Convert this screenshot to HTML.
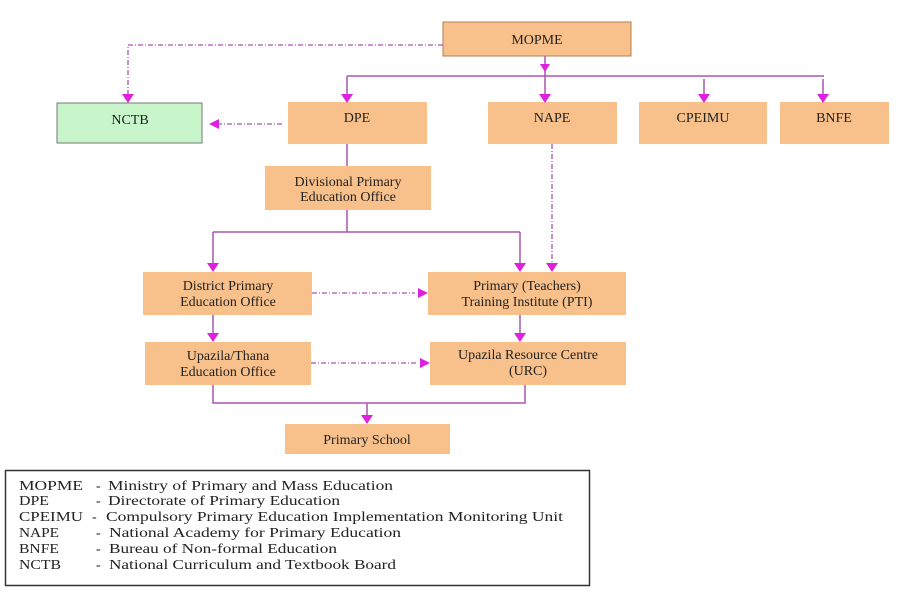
<!DOCTYPE html>
<html><head><meta charset="utf-8"><style>
body{margin:0;background:#fff;width:900px;height:600px;overflow:hidden}
svg{display:block}
text{font-family:"Liberation Serif",serif;font-size:14px;fill:#222}
.b{fill:#f8c08a}
.l{stroke:#a855b0;stroke-width:1.5;fill:none}
.d{stroke:#a855b0;stroke-width:1.3;fill:none;stroke-dasharray:5,2,1,2}
.a{fill:#e020e0}
</style></head><body>
<svg width="900" height="600" viewBox="0 0 900 600">
<rect class="b" x="443" y="22" width="188" height="34" stroke="#b08050" stroke-width="1"/>
<rect x="57" y="103" width="145" height="40" fill="#c9f5cb" stroke="#777" stroke-width="1"/>
<rect class="b" x="288" y="102" width="139" height="42"/>
<rect class="b" x="488" y="102" width="129" height="42"/>
<rect class="b" x="639" y="102" width="128" height="42"/>
<rect class="b" x="780" y="102" width="109" height="42"/>
<rect class="b" x="265" y="166" width="166" height="44"/>
<rect class="b" x="143" y="272" width="169" height="43"/>
<rect class="b" x="428" y="272" width="198" height="43"/>
<rect class="b" x="145" y="342" width="166" height="43"/>
<rect class="b" x="430" y="342" width="196" height="43"/>
<rect class="b" x="285" y="424" width="165" height="30"/>
<g text-anchor="middle">
<text x="537" y="44">MOPME</text>
<text x="130" y="124">NCTB</text>
<text x="357" y="122">DPE</text>
<text x="552" y="122">NAPE</text>
<text x="703" y="122">CPEIMU</text>
<text x="834" y="122">BNFE</text>
<text x="348" y="186">Divisional Primary</text>
<text x="348" y="201">Education Office</text>
<text x="228" y="290">District Primary</text>
<text x="228" y="306">Education Office</text>
<text x="527" y="290">Primary (Teachers)</text>
<text x="527" y="306">Training Institute (PTI)</text>
<text x="228" y="360">Upazila/Thana</text>
<text x="228" y="376">Education Office</text>
<text x="528" y="359">Upazila Resource Centre</text>
<text x="528" y="375">(URC)</text>
<text x="367" y="444">Primary School</text>
</g>
<path class="l" d="M545 56V76M347 76H824M347 76V95M545 76V95M704 79V95M823 79V95"/>
<path class="d" d="M443 45H128V95"/>
<path class="d" d="M282 124H218"/>
<path class="l" d="M347 144V166M347 210V232M213 232H520M213 232V265M520 232V265"/>
<path class="d" d="M552 144V265"/>
<path class="d" d="M312 293H415"/>
<path class="l" d="M520 315V335M213 315V335"/>
<path class="d" d="M311 363H418"/>
<path class="l" d="M213 385V403H525V385M367 403V417"/>
<g class="a">
<path d="M540 64h10l-5 8z"/>
<path d="M341 94h12l-6 9z"/><path d="M539 94h12l-6 9z"/><path d="M698 94h12l-6 9z"/><path d="M817 94h12l-6 9z"/>
<path d="M122 94h12l-6 9z"/>
<path d="M209 124l10-5v10z"/>
<path d="M207 263h12l-6 9z"/><path d="M514 263h12l-6 9z"/><path d="M546 263h12l-6 9z"/>
<path d="M428 293l-10-5v10z"/>
<path d="M207 333h12l-6 9z"/><path d="M514 333h12l-6 9z"/>
<path d="M430 363l-10-5v10z"/>
<path d="M361 415h12l-6 9z"/>
</g>
<rect x="5.5" y="470.5" width="584" height="115" fill="#fff" stroke="#333" stroke-width="1.5"/>
<g style="font-size:14px">
<text x="19" y="490" textLength="64" lengthAdjust="spacingAndGlyphs">MOPME</text><text x="96" y="490">-</text><text x="108" y="490" textLength="285" lengthAdjust="spacingAndGlyphs">Ministry of Primary and Mass Education</text>
<text x="19" y="505" textLength="30" lengthAdjust="spacingAndGlyphs">DPE</text><text x="96" y="505">-</text><text x="108" y="505" textLength="232" lengthAdjust="spacingAndGlyphs">Directorate of Primary Education</text>
<text x="19" y="521" textLength="64" lengthAdjust="spacingAndGlyphs">CPEIMU</text><text x="92" y="521">-</text><text x="106" y="521" textLength="457" lengthAdjust="spacingAndGlyphs">Compulsory Primary Education Implementation Monitoring Unit</text>
<text x="19" y="537" textLength="40" lengthAdjust="spacingAndGlyphs">NAPE</text><text x="96" y="537">-</text><text x="109" y="537" textLength="292" lengthAdjust="spacingAndGlyphs">National Academy for Primary Education</text>
<text x="19" y="553" textLength="40" lengthAdjust="spacingAndGlyphs">BNFE</text><text x="96" y="553">-</text><text x="109" y="553" textLength="228" lengthAdjust="spacingAndGlyphs">Bureau of Non-formal Education</text>
<text x="19" y="569" textLength="42" lengthAdjust="spacingAndGlyphs">NCTB</text><text x="96" y="569">-</text><text x="109" y="569" textLength="287" lengthAdjust="spacingAndGlyphs">National Curriculum and Textbook Board</text>
</g>
</svg>
</body></html>
